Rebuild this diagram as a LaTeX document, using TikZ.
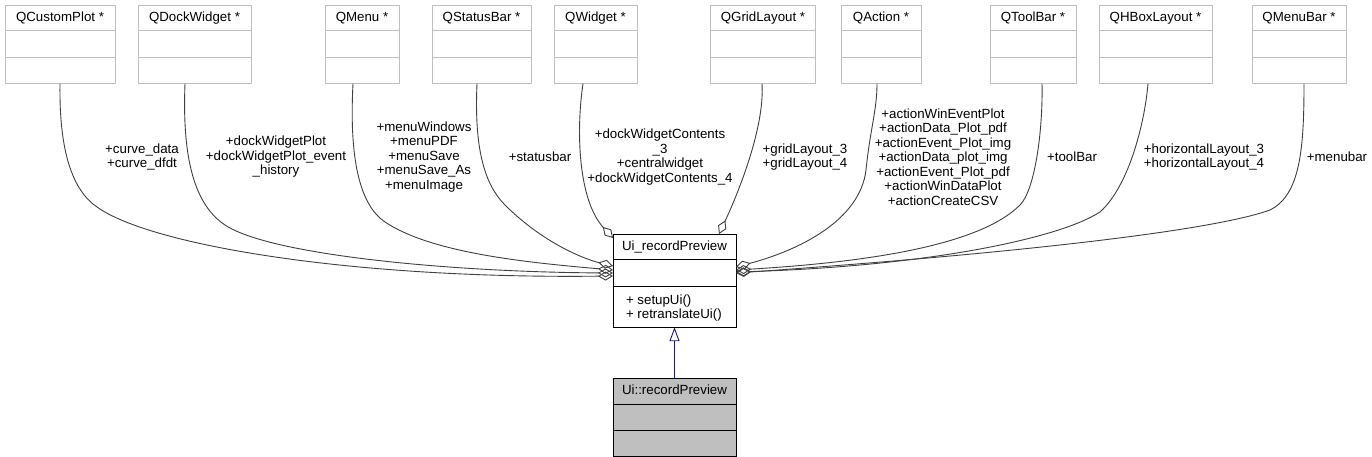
\documentclass[tikz,border=0pt]{standalone}
\usepackage{fontspec}
\setmainfont{Liberation Sans}
\usepackage{tikz}
\usetikzlibrary{arrows.meta, positioning, shapes.multipart}
\definecolor{grey75}{RGB}{191,191,191}
\definecolor{grey25}{RGB}{64,64,64}
\definecolor{midnightblue}{RGB}{25,25,112}
\newcommand{\dxfont}{\fontsize{13.3pt}{14.5pt}\selectfont}
\tikzset{
	classbox/.style={rectangle split, rectangle split parts=3, rectangle split ignore empty parts=false,
		rectangle split empty part height=25.5pt, rectangle split empty part depth=0pt,
		draw=#1, line width=0.9pt, inner xsep=0pt, inner ysep=0pt, outer sep=0pt, anchor=north,
		font=\dxfont, execute at begin node={\rule[-9pt]{0pt}{25pt}}},
	memberlbl/.style={font=\dxfont, align=center, inner sep=0pt},
	usagearr/.style={draw=grey25, line width=0.9pt, {Diamond[open, length=15pt, width=9pt]}-},
	inheritarr/.style={draw=midnightblue, line width=0.9pt, -{Triangle[open, length=14pt, width=10pt]}},
}
\begin{document}
\begin{tikzpicture}[x=1pt, y=-1pt]
	\fill[white] (0,0) rectangle (1372,457);
	\useasboundingbox (0,0) rectangle (1372,457);
	% classes that are used
	\node[classbox=grey75, minimum width=110pt] (qcp) at (60,5) {QCustomPlot *};
	\node[classbox=grey75, minimum width=113pt] (qdw) at (194.5,5) {QDockWidget *};
	\node[classbox=grey75, minimum width=74pt] (qmenu) at (362,5) {QMenu *};
	\node[classbox=grey75, minimum width=99pt] (qsb) at (481.5,5) {QStatusBar *};
	\node[classbox=grey75, minimum width=83pt] (qw) at (595.5,5) {QWidget *};
	\node[classbox=grey75, minimum width=105pt] (qgl) at (763,5) {QGridLayout *};
	\node[classbox=grey75, minimum width=80pt] (qact) at (881,5) {QAction *};
	\node[classbox=grey75, minimum width=86pt] (qtb) at (1033,5) {QToolBar *};
	\node[classbox=grey75, minimum width=113pt] (qhb) at (1155.5,5) {QHBoxLayout *};
	\node[classbox=grey75, minimum width=94pt] (qmb) at (1299,5) {QMenuBar *};
	% the ui class and its child
	\node[classbox=black, minimum width=123pt] (ui) at (674.5,234) {Ui\_recordPreview\nodepart{three}\parbox[t]{97pt}{\fontsize{13.3pt}{13.5pt}\selectfont\rule{0pt}{18pt}+ setupUi()\\\rule[-8.5pt]{0pt}{8.5pt}+ retranslateUi()}};
	\node[classbox=black, fill=grey75, minimum width=123pt, below=51pt of ui] (uirp) {Ui::recordPreview};
	\draw[inheritarr] (uirp.north) -- (ui.south);
	% member labels
	\node[memberlbl] (lcurve) at (142,157) {+curve\_data\\+curve\_dfdt};
	\node[memberlbl] (ldock) at (276,157) {+dockWidgetPlot\\+dockWidgetPlot\_event\\\_history};
	\node[memberlbl] (lmenu) at (424,157) {+menuWindows\\+menuPDF\\+menuSave\\+menuSave\_As\\+menuImage};
	\node[memberlbl] (lstatus) at (540,156.5) {+statusbar};
	\node[memberlbl] (lwidget) at (660,157) {+dockWidgetContents\\\_3\\+centralwidget\\+dockWidgetContents\_4};
	\node[memberlbl] (lgrid) at (805,157) {+gridLayout\_3\\+gridLayout\_4};
	\node[memberlbl] (laction) at (943,157) {+actionWinEventPlot\\+actionData\_Plot\_pdf\\+actionEvent\_Plot\_img\\+actionData\_plot\_img\\+actionEvent\_Plot\_pdf\\+actionWinDataPlot\\+actionCreateCSV};
	\node[memberlbl] (ltool) at (1072,156.5) {+toolBar};
	\node[memberlbl] (lhbox) at (1204,157) {+horizontalLayout\_3\\+horizontalLayout\_4};
	\node[memberlbl] (lmenubar) at (1337,156.5) {+menubar};
	% usage edges, left side
	\draw[usagearr] ([yshift=-42pt]ui.north west) .. controls (350,279) and (150,245) .. (97,207) .. controls (72,190) and (59,150) .. (qcp.south);
	\draw[usagearr] ([yshift=-39pt]ui.north west) .. controls (450,272) and (270,255) .. (225,225) .. controls (195,205) and (182,160) .. ([xshift=-9.5pt]qdw.south);
	\draw[usagearr] ([yshift=-36pt]ui.north west) .. controls (520,262) and (430,252) .. (385,222) .. controls (360,205) and (349,160) .. ([xshift=-9pt]qmenu.south);
	\draw[usagearr] ([yshift=-32pt]ui.north west) .. controls (580,258) and (540,240) .. (505,205) .. controls (485,185) and (474,150) .. ([xshift=-4.5pt]qsb.south);
	\draw[usagearr] ([yshift=-4pt]ui.north west) .. controls (578,200) and (576,130) .. ([xshift=-12.5pt]qw.south);
	% usage edges, right side
	\draw[usagearr] ([xshift=-17pt]ui.north east) .. controls (735,200) and (765,130) .. ([xshift=-1pt]qgl.south);
	\draw[usagearr] ([yshift=-33pt]ui.north east) .. controls (800,250) and (860,220) .. (866,170) .. controls (870,130) and (877,110) .. ([xshift=-4pt]qact.south);
	\draw[usagearr] ([yshift=-36pt]ui.north east) .. controls (870,262) and (980,245) .. (1020,205) .. controls (1035,190) and (1043,130) .. ([xshift=9pt]qtb.south);
	\draw[usagearr] ([yshift=-38pt]ui.north east) .. controls (930,266) and (1060,238) .. (1100,212) .. controls (1130,185) and (1145,120) .. ([xshift=-7.5pt]qhb.south);
	\draw[usagearr] ([yshift=-39pt]ui.north east) .. controls (950,258) and (1200,235) .. (1270,210) .. controls (1300,195) and (1304,150) .. ([xshift=5pt]qmb.south);
\end{tikzpicture}
\end{document}
